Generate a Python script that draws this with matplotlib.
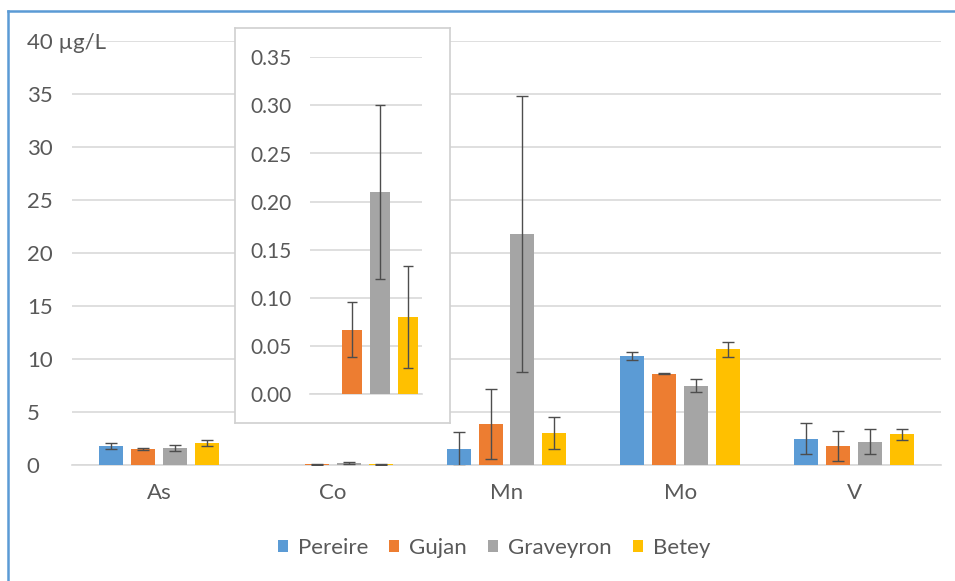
import numpy as np
import matplotlib
matplotlib.use('Agg')
import matplotlib.pyplot as plt
from matplotlib.lines import Line2D

plt.rcParams['font.family'] = ['Lato', 'DejaVu Sans']

elements = ['As', 'Co', 'Mn', 'Mo', 'V']
sites = ['Pereire', 'Gujan', 'Graveyron', 'Betey']
colors = ['#5B9BD5', '#ED7D31', '#A5A5A5', '#FFC000']

# mean values (ug/L), one list per site, in element order
pereire = [1.8, np.nan, 1.5, 10.3, 2.5]
gujan = [1.5, 0.067, 3.9, 8.6, 1.8]
graveyron = [1.6, 0.21, 21.8, 7.5, 2.2]
betey = [2.1, 0.08, 3.0, 10.9, 2.9]

pereire_err = [0.3, np.nan, 1.6, 0.4, 1.5]
gujan_err = [0.1, 0.029, 3.3, 0.05, 1.4]
graveyron_err = [0.25, 0.09, 13.0, 0.6, 1.2]
betey_err = [0.3, 0.053, 1.5, 0.7, 0.5]

values = [pereire, gujan, graveyron, betey]
errors = [pereire_err, gujan_err, graveyron_err, betey_err]

yticks = [0, 5, 10, 15, 20, 25, 30, 35, 40]
inset_ticks = [0.0, 0.05, 0.10, 0.15, 0.20, 0.25, 0.30, 0.35]

txt = '#595959'
grid = '#D9D9D9'
errc = '#4D4D4D'
fs = 16

fig = plt.figure(figsize=(9.55, 5.81), dpi=100)

ax = fig.add_axes([72/955, 1 - 465/581, (941-72)/955, (465-41)/581])
x = np.arange(len(elements))
offs = [-0.276, -0.092, 0.092, 0.276]
for i in range(4):
    ax.bar(x + offs[i], values[i], 0.138, color=colors[i], label=sites[i],
           yerr=errors[i], capsize=4,
           error_kw=dict(ecolor=errc, elinewidth=1.0, capthick=1.0), zorder=3)
ax.set_xlim(-0.5, 4.5)
ax.set_ylim(0, 40)
ax.set_yticks(yticks)
ax.set_yticklabels([str(t) for t in yticks[:-1]] + ['40 \u00b5g/L'])
for lab in ax.get_yticklabels():
    lab.set_horizontalalignment('left')
ax.tick_params(axis='y', length=0, pad=32.5, labelsize=fs, labelcolor=txt)
ax.set_xticks(x)
ax.set_xticklabels(elements)
ax.tick_params(axis='x', length=0, pad=13, labelsize=fs, labelcolor=txt)
ax.yaxis.grid(True, color=grid, lw=1.2, zorder=0)
for s in ['top', 'right', 'left']:
    ax.spines[s].set_visible(False)
ax.spines['bottom'].set_color(grid)
ax.spines['bottom'].set_linewidth(1.2)

ax.legend(loc='center', bbox_to_anchor=(494/955, 1 - 548/581),
          bbox_transform=fig.transFigure, ncol=4, frameon=False,
          fontsize=fs, labelcolor=txt, handlelength=0.45, handleheight=0.45,
          handletextpad=0.45, columnspacing=0.95)

# inset box
box = fig.add_axes([235/955, 1 - 423/581, (450-235)/955, (423-28)/581])
box.set_xticks([])
box.set_yticks([])
for s in box.spines.values():
    s.set_color('#D0D0D0')
    s.set_linewidth(1.2)

# inset with Co values
ins = fig.add_axes([310/955, 1 - 394/581, (421.7-310)/955, (394-57.3)/581])
ioffs = [-0.375, -0.125, 0.125, 0.375]
for i in range(4):
    ins.bar(ioffs[i], values[i][1], 0.179, color=colors[i],
            yerr=errors[i][1], capsize=3.5,
            error_kw=dict(ecolor=errc, elinewidth=1.0, capthick=1.0), zorder=3)
ins.set_xlim(-0.5, 0.5)
ins.set_ylim(0, 0.35)
ins.set_yticks(inset_ticks)
ins.set_yticklabels(['%.2f' % t for t in inset_ticks])
ins.tick_params(axis='y', length=0, pad=13, labelsize=15, labelcolor=txt)
ins.set_xticks([])
ins.yaxis.grid(True, color=grid, lw=1.2, zorder=0)
ins.patch.set_alpha(0)
for s in ['top', 'right', 'left']:
    ins.spines[s].set_visible(False)
ins.spines['bottom'].set_color(grid)
ins.spines['bottom'].set_linewidth(1.2)

# blue frame around the chart
fig.add_artist(Line2D([8/955, 1], [1 - 11/581, 1 - 11/581], color='#5B9BD5', lw=1.8))
fig.add_artist(Line2D([8/955, 8/955], [0, 1 - 11/581], color='#5B9BD5', lw=1.8))

fig.savefig('out.png', dpi=100)
